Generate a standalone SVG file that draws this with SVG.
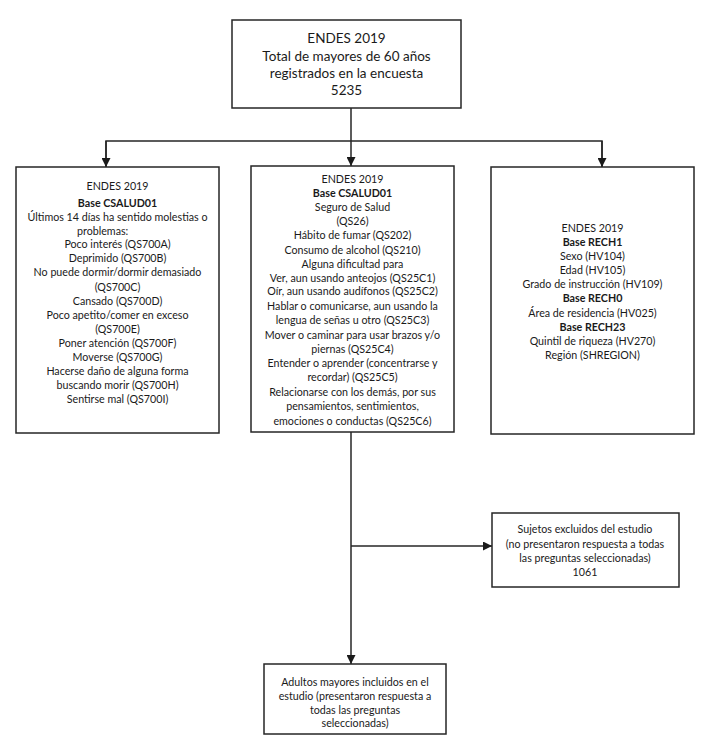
<svg xmlns="http://www.w3.org/2000/svg" width="713" height="749" viewBox="0 0 713 749">
<defs>
<style>
.box{fill:#fff;stroke:#262626;stroke-width:1.5}
.ln{fill:none;stroke:#262626;stroke-width:1.5}
text{font-family:Lato,"Liberation Sans",sans-serif;font-size:10.7px;fill:#1a1a1a;text-anchor:middle}
.b{font-weight:bold}
.big{font-size:13.5px}
</style>
<marker id="ah" viewBox="0 0 10 10" refX="10" refY="5" markerWidth="6" markerHeight="6" orient="auto" markerUnits="strokeWidth">
<path d="M0,0 L10,5 L0,10 z" fill="#1a1a1a"/>
</marker>
</defs>
<rect width="713" height="749" fill="#fff"/>
<g id="connectors">
<line class="ln" x1="351" y1="108" x2="351" y2="166" marker-end="url(#ah)"/>
<polyline class="ln" points="106,167 106,141 602,141 602,167"/>
<line class="ln" x1="106" y1="141" x2="106" y2="167" marker-end="url(#ah)"/>
<line class="ln" x1="602" y1="141" x2="602" y2="167" marker-end="url(#ah)"/>
<line class="ln" x1="351" y1="432" x2="351" y2="664" marker-end="url(#ah)"/>
<line class="ln" x1="351" y1="546" x2="492" y2="546" marker-end="url(#ah)"/>
</g>
<g id="top">
<rect class="box" x="232" y="20" width="229" height="88"/>
<text class="big" x="346.5" y="43">ENDES 2019</text>
<text class="big" x="346.5" y="61">Total de mayores de 60 años</text>
<text class="big" x="346.5" y="78">registrados en la encuesta</text>
<text class="big" x="346.5" y="95">5235</text>
</g>
<g id="left">
<rect class="box" x="16" y="167" width="203" height="266"/>
<text x="117.5" y="190">ENDES 2019</text>
<text class="b" x="117.5" y="206.5">Base CSALUD01</text>
<text x="117.5" y="220.5">Últimos 14 días ha sentido molestias o</text>
<text x="77" y="234.5" style="text-anchor:start">problemas:</text>
<text x="117.5" y="248">Poco interés (QS700A)</text>
<text x="117.5" y="262">Deprimido (QS700B)</text>
<text x="117.5" y="276">No puede dormir/dormir demasiado</text>
<text x="117.5" y="290.5">(QS700C)</text>
<text x="117.5" y="304.5">Cansado (QS700D)</text>
<text x="117.5" y="318.5">Poco apetito/comer en exceso</text>
<text x="117.5" y="333">(QS700E)</text>
<text x="117.5" y="347">Poner atención (QS700F)</text>
<text x="117.5" y="361">Moverse (QS700G)</text>
<text x="117.5" y="375">Hacerse daño de alguna forma</text>
<text x="117.5" y="389">buscando morir (QS700H)</text>
<text x="117.5" y="403">Sentirse mal (QS700I)</text>
</g>
<g id="middle">
<rect class="box" x="251" y="166" width="203" height="266"/>
<text x="352.5" y="183">ENDES 2019</text>
<text class="b" x="352.5" y="196.5">Base CSALUD01</text>
<text x="352.5" y="210.5">Seguro de Salud</text>
<text x="352.5" y="224.5">(QS26)</text>
<text x="352.5" y="239">Hábito de fumar (QS202)</text>
<text x="352.5" y="253.5">Consumo de alcohol (QS210)</text>
<text x="352.5" y="267.5">Alguna dificultad para</text>
<text x="352.5" y="282">Ver, aun usando anteojos (QS25C1)</text>
<text x="352.5" y="294.5">Oír, aun usando audífonos (QS25C2)</text>
<text x="352.5" y="309.5">Hablar o comunicarse, aun usando la</text>
<text x="352.5" y="324">lengua de señas u otro (QS25C3)</text>
<text x="352.5" y="338.5">Mover o caminar para usar brazos y/o</text>
<text x="352.5" y="353">piernas (QS25C4)</text>
<text x="352.5" y="367">Entender o aprender (concentrarse y</text>
<text x="352.5" y="381">recordar) (QS25C5)</text>
<text x="352.5" y="396">Relacionarse con los demás, por sus</text>
<text x="352.5" y="410">pensamientos, sentimientos,</text>
<text x="352.5" y="424.5">emociones o conductas (QS25C6)</text>
</g>
<g id="right">
<rect class="box" x="491" y="167" width="203" height="267"/>
<text x="592.5" y="232">ENDES 2019</text>
<text class="b" x="592.5" y="245.5">Base RECH1</text>
<text x="592.5" y="259.5">Sexo (HV104)</text>
<text x="592.5" y="273.5">Edad (HV105)</text>
<text x="592.5" y="288">Grado de instrucción (HV109)</text>
<text class="b" x="592.5" y="302">Base RECH0</text>
<text x="592.5" y="317">Área de residencia (HV025)</text>
<text class="b" x="592.5" y="330.5">Base RECH23</text>
<text x="592.5" y="345">Quintil de riqueza (HV270)</text>
<text x="592.5" y="358.5">Región (SHREGION)</text>
</g>
<g id="excluded">
<rect class="box" x="492" y="513" width="187" height="74"/>
<text x="585" y="533">Sujetos excluidos del estudio</text>
<text x="585" y="547.5">(no presentaron respuesta a todas</text>
<text x="585" y="562">las preguntas seleccionadas)</text>
<text x="585" y="575.5">1061</text>
</g>
<g id="included">
<rect class="box" x="264" y="664" width="182" height="70"/>
<text x="355" y="685.5">Adultos mayores incluidos en el</text>
<text x="355" y="699.5">estudio (presentaron respuesta a</text>
<text x="355" y="713.5">todas las preguntas</text>
<text x="355" y="726.5">seleccionadas)</text>
</g>
</svg>
